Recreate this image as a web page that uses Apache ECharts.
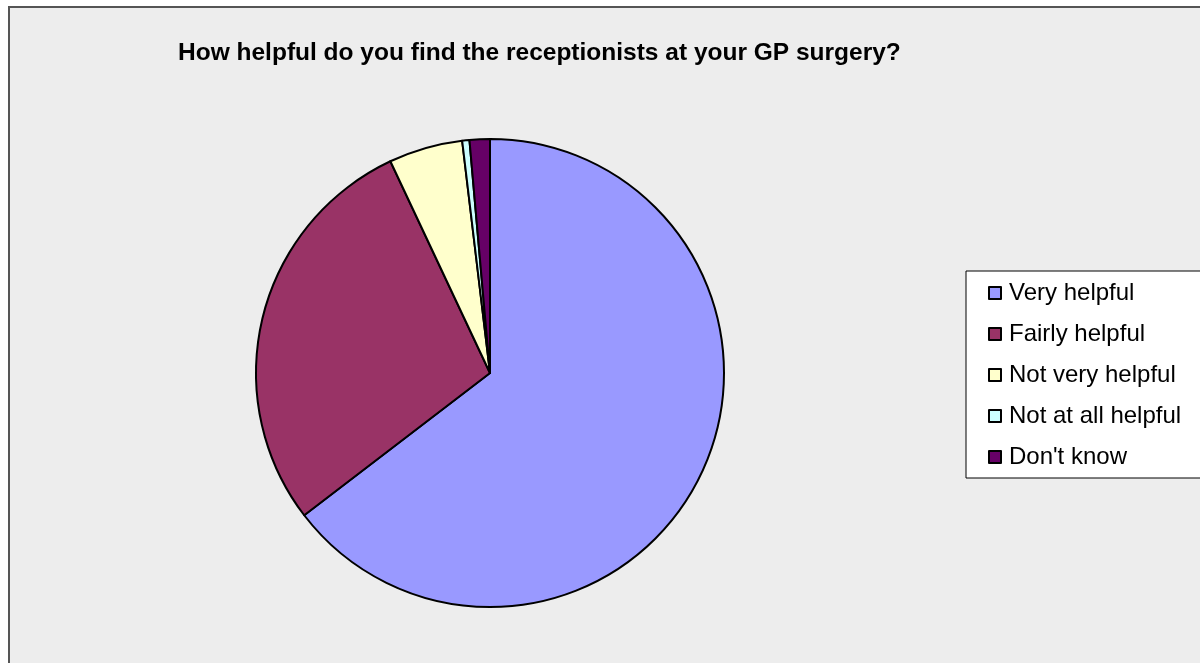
<!DOCTYPE html>
<html>
<head>
<meta charset="utf-8">
<script src="https://cdn.jsdelivr.net/npm/echarts@6/dist/echarts.min.js"></script>
<style>
    html, body { margin: 0; padding: 0; background: #fff; }
    #chart { width: 1200px; height: 663px; }
</style>
</head>
<body>
<div id="chart"></div>
<script>
    // answers and share of responses (%)
    var categories = ['Very helpful', 'Fairly helpful', 'Not very helpful', 'Not at all helpful', "Don't know"];
    var values = [64.6, 28.4, 5.1, 0.5, 1.4];
    var colors = ['#9999ff', '#993366', '#ffffcc', '#ccffff', '#660066'];

    var myChart = echarts.init(document.getElementById('chart'));

    var pieData = categories.map(function (name, i) {
        return { name: name, value: values[i], itemStyle: { color: colors[i] } };
    });

    var option = {
        animation: false,
        graphic: [{
            type: 'rect',
            z: -10,
            shape: { x: 9, y: 7, width: 1300, height: 800 },
            style: { fill: '#ededed', stroke: '#555', lineWidth: 2 }
        }],
        title: {
            text: 'How helpful do you find the receptionists at your GP surgery?',
            left: 173,
            top: 36,
            textStyle: {
                fontFamily: 'Liberation Sans',
                fontSize: 24.5,
                fontWeight: 'bold',
                color: '#000'
            }
        },
        legend: {
            orient: 'vertical',
            left: 966,
            top: 271,
            backgroundColor: '#fff',
            borderColor: '#000',
            borderWidth: 1,
            borderRadius: 0,
            padding: [10, 50, 9, 22],
            itemWidth: 12,
            itemHeight: 12,
            itemGap: 17,
            icon: 'rect',
            itemStyle: { borderColor: '#000', borderWidth: 2 },
            textStyle: { fontFamily: 'Liberation Sans', fontSize: 24, color: '#000', padding: [0, 0, 0, 3] },
            data: categories
        },
        series: [{
            type: 'pie',
            center: [490, 373],
            radius: 234,
            startAngle: 90,
            clockwise: true,
            label: { show: false },
            labelLine: { show: false },
            emphasis: { disabled: true },
            itemStyle: { borderColor: '#000', borderWidth: 2 },
            data: pieData
        }]
    };
    myChart.setOption(option);
</script>
</body>
</html>
